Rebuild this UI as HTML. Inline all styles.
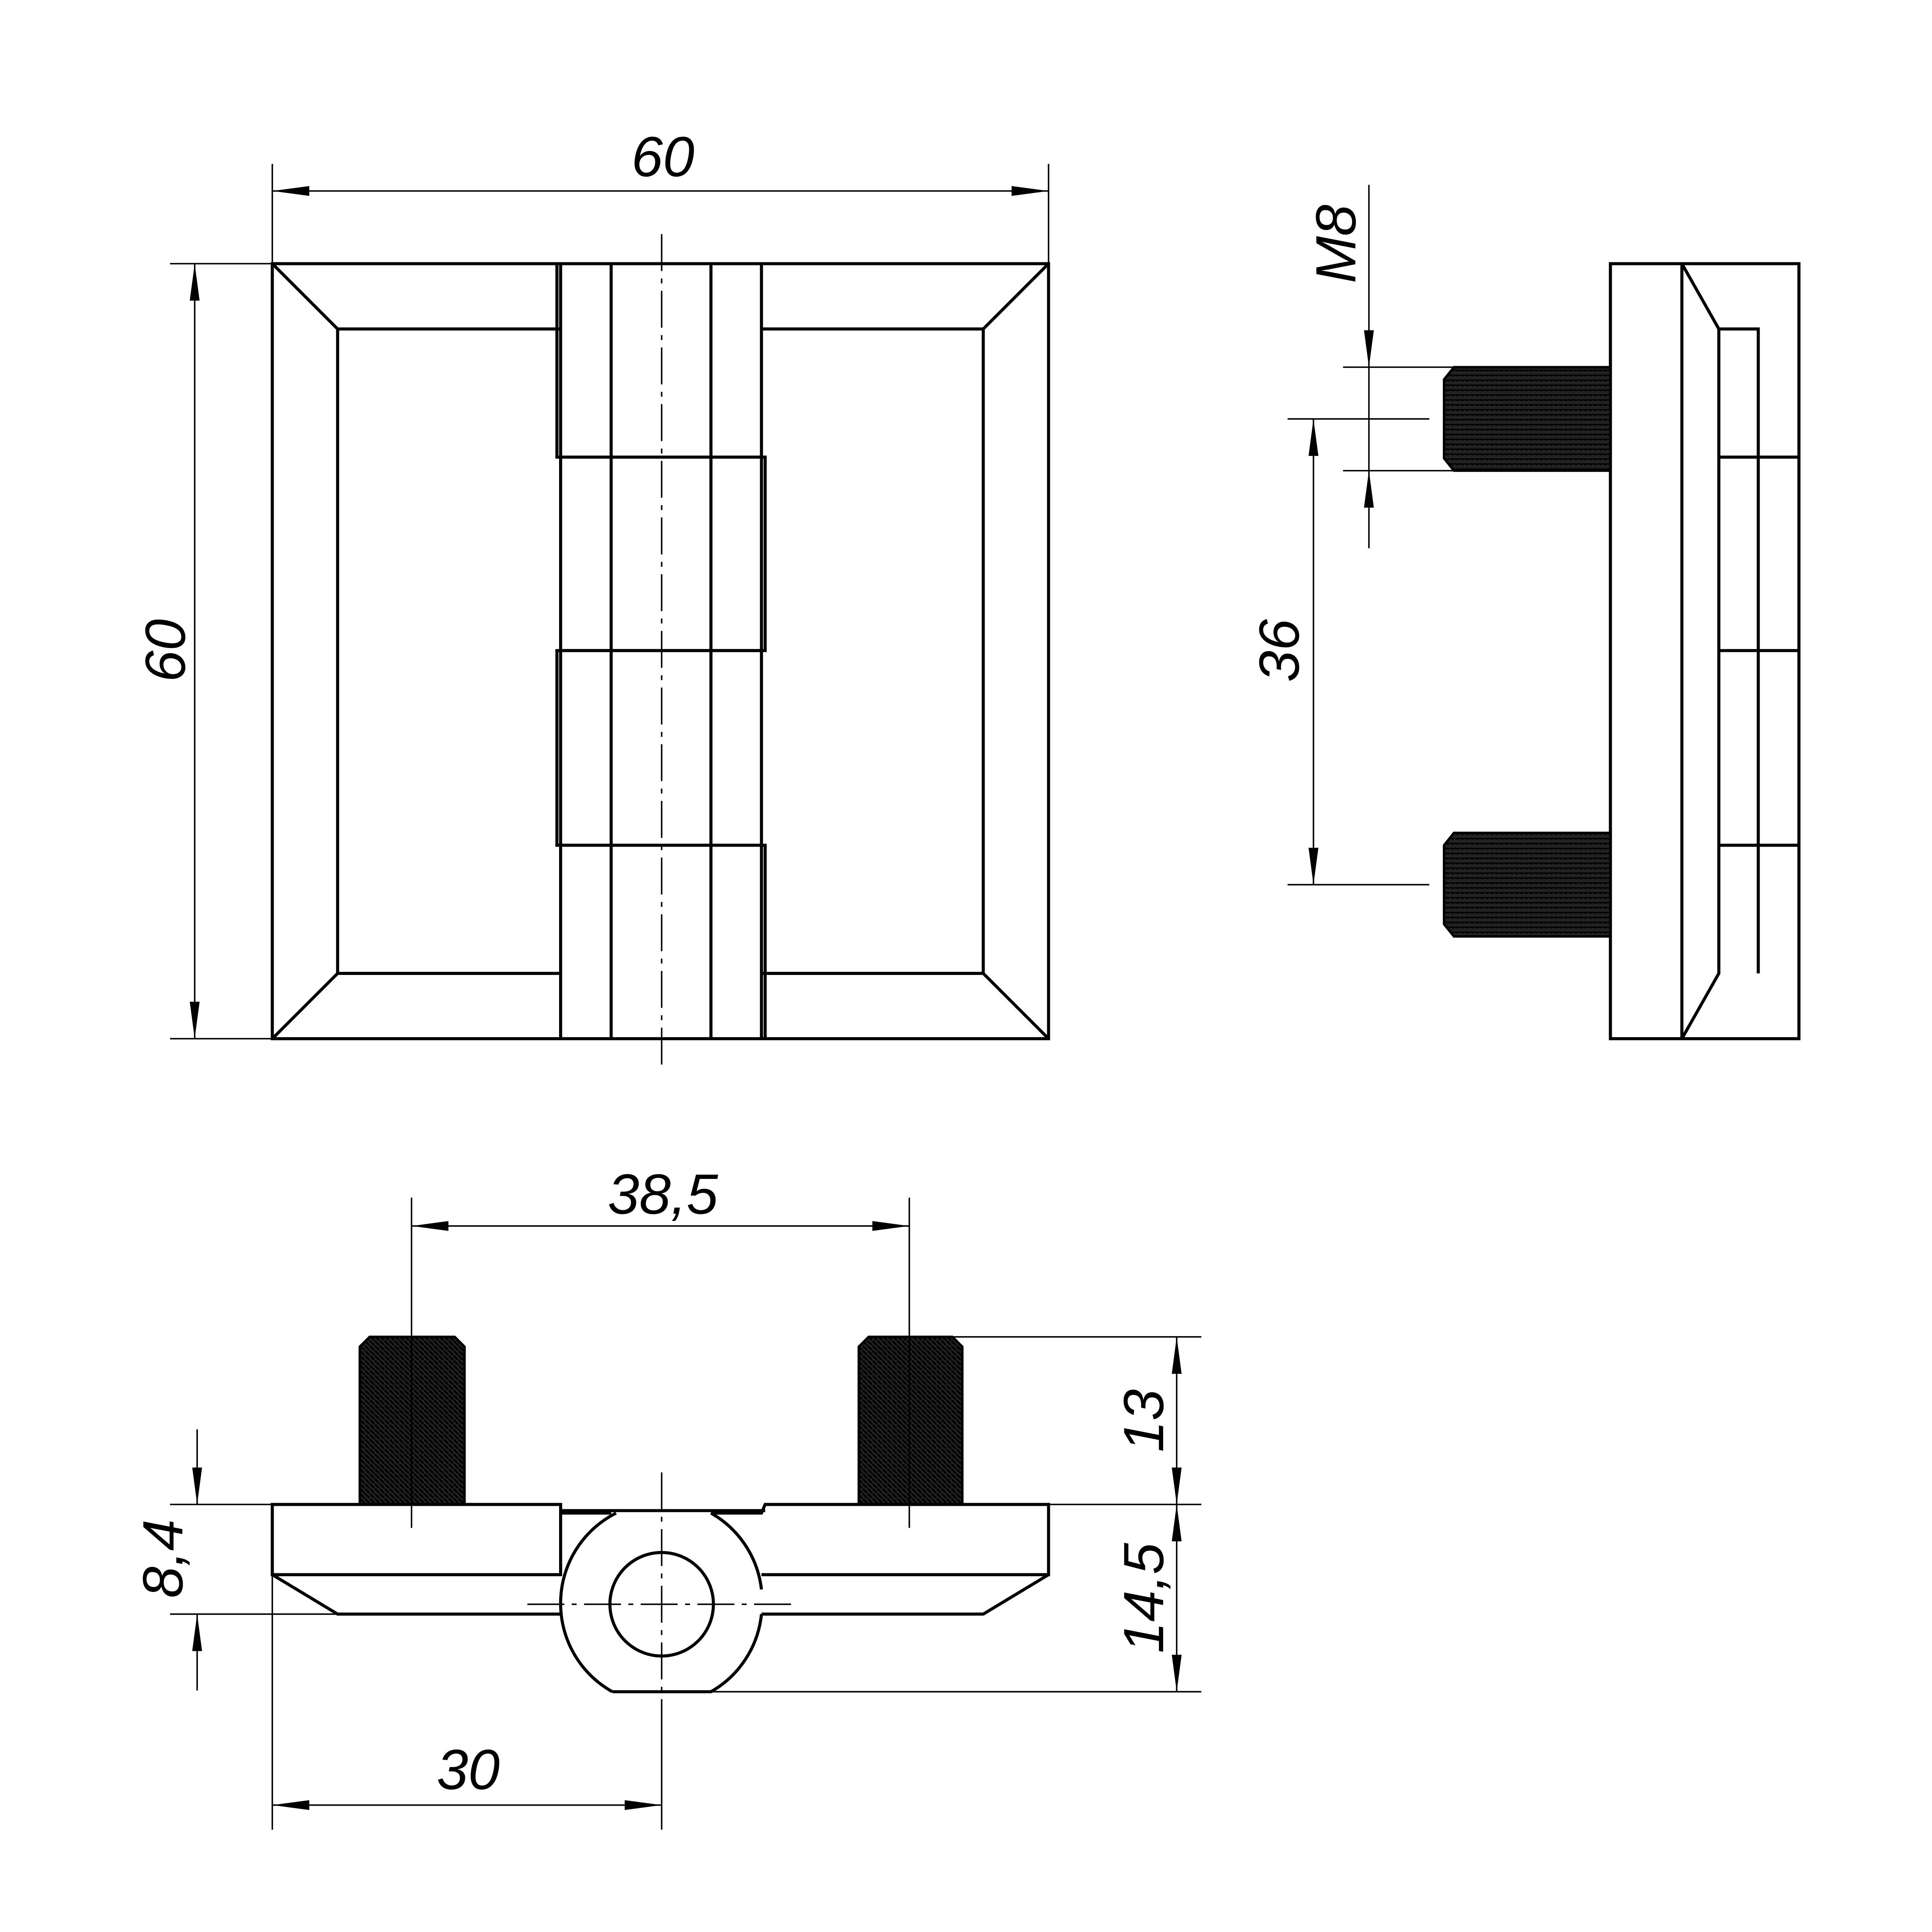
<!DOCTYPE html>
<html><head><style>html,body{margin:0;padding:0;background:#fff;width:100%;height:100%;overflow:hidden}svg{display:block;width:100vw;height:100vh}</style></head>
<body>
<svg viewBox="0 0 1568 1568" preserveAspectRatio="xMinYMin meet" xmlns="http://www.w3.org/2000/svg">
<defs>
<pattern id="th" width="4" height="4" patternUnits="userSpaceOnUse"><rect width="4" height="4" fill="#222"/><line x1="0" y1="0" x2="4" y2="4" stroke="#000" stroke-width="1.5"/></pattern>
<pattern id="tv" width="4" height="4" patternUnits="userSpaceOnUse"><rect width="4" height="4" fill="#222"/><line x1="0" y1="0" x2="4" y2="1" stroke="#000" stroke-width="1.5"/></pattern>
<marker id="a" viewBox="0 0 30 8" refX="30" refY="4" markerWidth="30" markerHeight="8" markerUnits="userSpaceOnUse" orient="auto-start-reverse"><path d="M0,0 L30,4 L0,8 Z" fill="#000"/></marker>
</defs>
<g fill="none" stroke="#000" stroke-width="2.5">
<rect x="221" y="214" width="630" height="629"/>
<path d="M221,214 L274,267 L455,267 M274,267 L274,790 L455,790 M221,843 L274,790"/>
<path d="M851,214 L798,267 L618,267 M798,267 L798,790 L618,790 M851,843 L798,790"/>
<path d="M455,214 V843 M496,214 V843 M577,214 V843 M618,214 V843"/>
<path d="M452,214 V371 H621 V528 H452 V686 H621 V843"/>
<path d="M455,371 H618 M455,528 H618 M455,686 H618"/>
<rect x="1307" y="214" width="153" height="629"/>
<path d="M1365,214 V843 M1365,214 L1395,267 V790 L1365,843 M1395,267 H1427 V790 M1395,371 H1460 M1395,528 H1460 M1395,686 H1460"/>
</g>
<g stroke="#000" stroke-width="2">
<path d="M1180,298 H1307 V382 H1180 L1172,372 V308 Z" fill="url(#tv)"/>
<path d="M1180,676 H1307 V760 H1180 L1172,750 V686 Z" fill="url(#tv)"/>
<path d="M300,1085 H369 L377,1093 V1221 H292 V1093 Z" fill="url(#th)"/>
<path d="M705,1085 H773 L781,1093 V1221 H697 V1093 Z" fill="url(#th)"/>
</g>
<g fill="none" stroke="#000" stroke-width="2.5">
<path d="M221,1221 H455 V1278 H221 Z M221,1278 L274,1310 H455"/>
<path d="M455,1228 L496,1228 M577,1228 L618,1228 L621,1221 H851 V1278 H618 M851,1278 L798,1310 H618"/>
<path d="M455,1226 H621"/>
<path d="M497,1373 H577 A82,82 0 0 0 618,1310 M497,1373 A82,82 0 0 1 455,1300"/>
<path d="M455,1300 A82,82 0 0 1 500,1228 M577,1228 A82,82 0 0 1 618,1290"/>
<circle cx="537" cy="1302" r="42"/>
</g>
<g fill="none" stroke="#000" stroke-width="1.2">
<path d="M537,190 V868" stroke-dasharray="30,6,4,6"/>
<path d="M537,1195 V1380 M428,1302 H645" stroke-dasharray="30,6,4,6"/>
<path d="M221,133 V214 M851,133 V214"/>
<path d="M221,155 H851" marker-start="url(#a)" marker-end="url(#a)"/>
<path d="M138,214 H221 M138,843 H221"/>
<path d="M158,214 V843" marker-start="url(#a)" marker-end="url(#a)"/>
<path d="M1090,298 H1180 M1090,382 H1180 M1045,340 H1160 M1045,718 H1160"/>
<path d="M1111,150 V298" marker-end="url(#a)"/>
<path d="M1111,445 V382" marker-end="url(#a)"/>
<path d="M1111,298 V382"/>
<path d="M1066,340 V718" marker-start="url(#a)" marker-end="url(#a)"/>
<path d="M334,972 V1240 M738,972 V1240"/>
<path d="M334,995 H738" marker-start="url(#a)" marker-end="url(#a)"/>
<path d="M760,1085 H975 M851,1221 H975 M577,1373 H975"/>
<path d="M955,1085 V1221" marker-start="url(#a)" marker-end="url(#a)"/>
<path d="M955,1221 V1373" marker-start="url(#a)" marker-end="url(#a)"/>
<path d="M138,1221 H221 M138,1310 H274"/>
<path d="M160,1160 V1221" marker-end="url(#a)"/>
<path d="M160,1372 V1310" marker-end="url(#a)"/>
<path d="M221,1278 V1485 M537,1380 V1485"/>
<path d="M221,1465 H537" marker-start="url(#a)" marker-end="url(#a)"/>
</g>
<g font-family="Liberation Sans, sans-serif" font-style="italic" font-size="46" fill="#000" text-anchor="middle">
<text x="538" y="143">60</text>
<text transform="translate(150,528) rotate(-90)">60</text>
<text transform="translate(1100,198) rotate(-90)">M8</text>
<text transform="translate(1054,528) rotate(-90)">36</text>
<text x="538" y="985">38,5</text>
<text transform="translate(944,1153) rotate(-90)">13</text>
<text transform="translate(944,1297) rotate(-90)">14,5</text>
<text transform="translate(148,1265) rotate(-90)">8,4</text>
<text x="380" y="1452">30</text>
</g>
</svg>
</body></html>
